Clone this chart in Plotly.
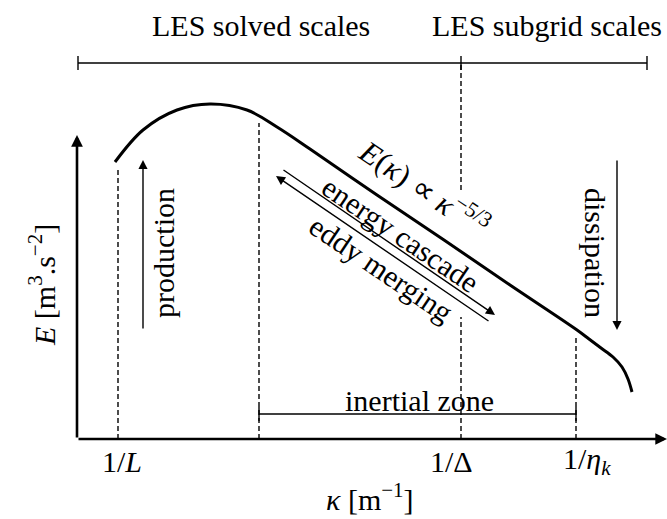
import plotly.graph_objects as go

# ---------------- data (schematic units: origin at axes corner) ----------------
spectrum_k = [38, 66, 100, 133, 170, 200, 233, 300, 367, 433, 500, 512, 524, 536, 545, 551, 555]
spectrum_E = [277, 309, 329, 335, 329, 312, 290, 244, 199, 154, 109, 100, 91, 82, 72, 60, 47]

tick_k = [41, 384, 499]
tick_labels = ["1/<i>L</i>", "1/Δ", "1/<i>η<sub>k</sub></i>"]
inertial_start = 182

scale_labels = ["LES solved scales", "LES subgrid scales"]
scale_label_k = [184, 470]
scale_bracket_k = [1, 384, 570]

FONT = "Liberation Serif"
FS = 30

fig = go.Figure()
fig.add_trace(go.Scatter(x=spectrum_k, y=spectrum_E, mode="lines",
                         line=dict(color="black", width=3, shape="spline", smoothing=1.0),
                         hoverinfo="skip", showlegend=False))

shapes = []
def seg(x0, y0, x1, y1, w=1.3, dash=None):
    d = dict(type="line", x0=x0, y0=y0, x1=x1, y1=y1, xref="x", yref="y",
             line=dict(color="black", width=w))
    if dash:
        d["line"]["dash"] = dash
    shapes.append(d)

DASH = "5px,3px"
# dashed verticals
seg(tick_k[0], 0, tick_k[0], 271, 1.4, DASH)
seg(inertial_start, 0, inertial_start, 316, 1.4, DASH)
seg(tick_k[1], 249, tick_k[1], 376, 1.4, DASH)
seg(tick_k[1], 0, tick_k[1], 122, 1.4, DASH)
seg(tick_k[2], 0, tick_k[2], 102, 1.4, DASH)

# top bracket
seg(scale_bracket_k[0], 376, scale_bracket_k[2], 376, 1.4)
for xb in scale_bracket_k:
    seg(xb, 369, xb, 383, 1.4)
# inertial bracket
seg(inertial_start, 25, tick_k[2], 25, 1.4)
for xb in [inertial_start, tick_k[2]]:
    seg(xb, 18, xb, 32, 1.4)

annotations = []
def arrow(x0, y0, x1, y1, w=1.4, size=1.3):
    annotations.append(dict(x=x1, y=y1, ax=x0, ay=y0, xref="x", yref="y",
                            axref="x", ayref="y", text="", showarrow=True,
                            arrowhead=2, arrowsize=size, arrowwidth=w,
                            arrowcolor="black", standoff=0, startstandoff=0,
                            font=dict(size=10)))

# axes
arrow(0, 0, 590, 0, 2.6, 0.9)
arrow(0, 0, 0, 304, 2.6, 0.9)
# production / dissipation
arrow(66, 109, 66, 279)
arrow(540, 280, 540, 109)
# cascade arrows
arrow(205, 270, 418, 124)
arrow(413, 117, 199, 263)

def text(x, y, s, angle=0, size=FS):
    annotations.append(dict(x=x, y=y, xref="x", yref="y", text=s, showarrow=False,
                            textangle=angle, xanchor="center", yanchor="middle",
                            font=dict(family=FONT, size=size, color="black")))

for lab, xk in zip(scale_labels, scale_label_k):
    text(xk, 414, lab)
text(342, 39, "inertial zone")
for lab, xk, dx in zip(tick_labels, tick_k, [4, -10, 11]):
    text(xk + dx, -22, lab)
text(293, -58, "<i>κ</i> [m<sup>−1</sup>]")
text(-35, 154, "<i>E</i> [m<sup>3</sup>.s<sup>−2</sup>]", angle=-90)
text(86, 186, "production", angle=-90)
text(519, 186, "dissipation", angle=90)
text(348, 252, "<i>E</i>(<i>κ</i>) ∝ <i>κ</i><sup>−5/3</sup>", angle=34, size=31)
text(324, 205, "energy cascade", angle=34)
text(304, 171, "eddy merging", angle=34)

fig.update_layout(
    width=667, height=519,
    margin=dict(l=0, r=0, t=0, b=0),
    paper_bgcolor="white", plot_bgcolor="white",
    xaxis=dict(range=[-77, 590], visible=False, fixedrange=True),
    yaxis=dict(range=[-80, 439], visible=False, fixedrange=True),
    shapes=shapes, annotations=annotations, showlegend=False,
)
fig.write_html("out.html", config={"displayModeBar": False},
               post_script="document.body.style.margin='0';document.body.style.overflow='hidden';")
